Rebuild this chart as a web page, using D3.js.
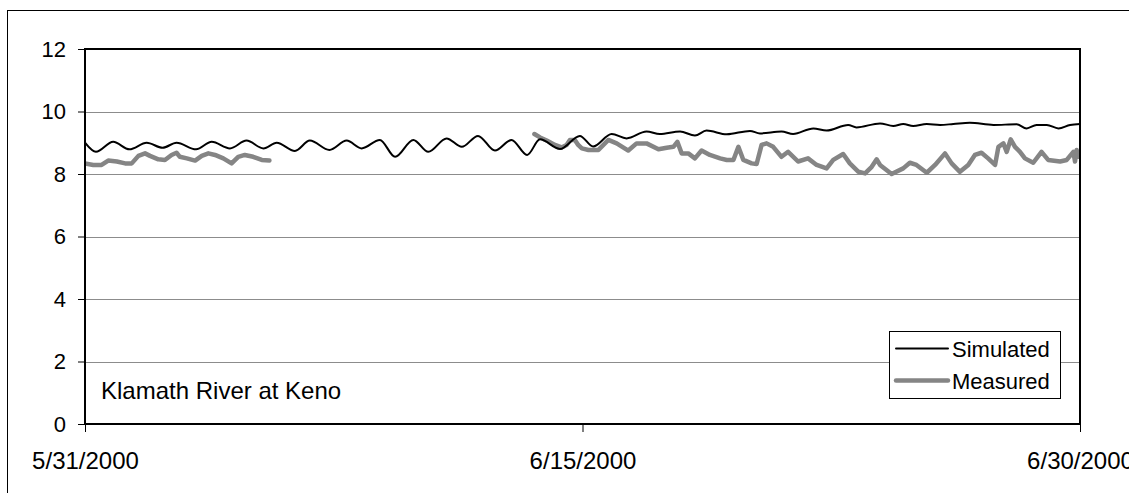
<!DOCTYPE html>
<html>
<head>
<meta charset="utf-8">
<script src="https://cdn.jsdelivr.net/npm/d3@7/dist/d3.min.js"></script>
<style>
  html, body { margin: 0; padding: 0; background: #fff; }
  svg { display: block; font-family: Arial, "Liberation Sans", sans-serif; }
</style>
</head>
<body>
<svg id="chart" width="1129" height="493"></svg>
<script>
// Water-quality time series, Klamath River at Keno, 5/31/2000 - 6/30/2000.
// Time is given in days since 5/31/2000 00:00.

const xTickDays = [0, 15, 30];
const xTickLabels = ["5/31/2000", "6/15/2000", "6/30/2000"];
const yTicks = [0, 2, 4, 6, 8, 10, 12];

const simulatedDays = [
  0.00, 0.33, 0.85, 1.34, 1.86, 2.34, 2.76, 3.35, 3.82, 4.37, 4.87, 5.38, 5.78,
  6.33, 6.78, 7.37, 7.89, 8.34, 8.89, 9.35, 9.90, 10.35, 10.90, 11.36, 11.85,
  12.36, 12.86, 13.33, 13.72, 14.32, 14.92, 15.32, 15.88, 16.33, 16.93, 17.33,
  17.94, 18.39, 18.74, 19.35, 20.05, 20.35, 21.00, 21.35, 21.96, 22.36, 23.01,
  23.26, 23.97, 24.37, 24.67, 24.97, 25.38, 25.78, 26.18, 26.68, 27.39, 28.09,
  28.39, 28.69, 29.00, 29.35, 29.70, 30.00
];
const simulatedValues = [
  9.00, 8.71, 9.03, 8.79, 9.00, 8.84, 9.00, 8.79, 9.03, 8.82, 9.07, 8.82, 9.00,
  8.74, 9.07, 8.77, 9.07, 8.82, 9.09, 8.55, 9.09, 8.71, 9.14, 8.87, 9.22,
  8.75, 9.09, 8.61, 9.11, 8.80, 9.22, 8.88, 9.28, 9.14, 9.36, 9.28,
  9.36, 9.23, 9.39, 9.27, 9.38, 9.30, 9.36, 9.28, 9.46, 9.39, 9.57,
  9.49, 9.62, 9.54, 9.60, 9.54, 9.60, 9.57, 9.60, 9.64, 9.57, 9.59,
  9.46, 9.57, 9.57, 9.46, 9.57, 9.60
];

// Measured record has a gap between 6/5 and 6/13.
const measuredDays1 = [
  0.00, 0.25, 0.50, 0.70, 0.96, 1.21, 1.41, 1.61, 1.81, 1.96, 2.21, 2.41, 2.61,
  2.76, 2.86, 3.07, 3.32, 3.52, 3.72, 3.92, 4.17, 4.42, 4.62, 4.82, 5.07, 5.33, 5.56
];
const measuredValues1 = [
  8.34, 8.29, 8.29, 8.43, 8.40, 8.34, 8.34, 8.58, 8.66, 8.58, 8.47, 8.45, 8.61,
  8.68, 8.55, 8.50, 8.43, 8.58, 8.66, 8.61, 8.50, 8.34, 8.55, 8.61, 8.55, 8.45, 8.43
];
const measuredDays2 = [
  13.55, 13.72, 13.92, 14.17, 14.37, 14.52, 14.62, 14.77, 14.87, 14.98, 15.18,
  15.48, 15.63, 15.78, 16.03, 16.38, 16.63, 16.93, 17.29, 17.54, 17.74, 17.86,
  17.99, 18.19, 18.39, 18.59, 18.84, 19.15, 19.35, 19.55, 19.70, 19.85, 20.10,
  20.25, 20.40, 20.55, 20.75, 21.00, 21.20, 21.50, 21.80, 22.06, 22.36, 22.56,
  22.86, 23.06, 23.32, 23.52, 23.72, 23.87, 23.97, 24.32, 24.67, 24.87, 25.07,
  25.38, 25.63, 25.93, 26.13, 26.38, 26.63, 26.83, 27.03, 27.23, 27.44, 27.54,
  27.69, 27.79, 27.91, 28.04, 28.19, 28.34, 28.59, 28.84, 29.04, 29.40, 29.60,
  29.80, 29.85, 29.90, 29.95
];
const measuredValues2 = [
  9.28, 9.17, 9.07, 8.93, 8.85, 8.93, 9.09, 9.09, 8.93, 8.82, 8.77,
  8.77, 8.93, 9.09, 8.98, 8.75, 8.98, 8.98, 8.79, 8.84, 8.87, 9.03,
  8.66, 8.66, 8.50, 8.75, 8.61, 8.50, 8.45, 8.45, 8.87, 8.45, 8.34,
  8.32, 8.93, 8.98, 8.87, 8.55, 8.71, 8.40, 8.50, 8.29, 8.18, 8.45,
  8.64, 8.34, 8.07, 8.02, 8.23, 8.47, 8.29, 8.00, 8.18, 8.36, 8.29,
  8.04, 8.29, 8.66, 8.34, 8.07, 8.29, 8.61, 8.68, 8.50, 8.29, 8.87,
  8.98, 8.71, 9.11, 8.87, 8.71, 8.50, 8.36, 8.71, 8.45, 8.40, 8.45,
  8.71, 8.40, 8.77, 8.55
];

const seriesNames = ["Simulated", "Measured"];
const annotation = "Klamath River at Keno";

const svg = d3.select("#chart");
const plot = { left: 85, top: 49, right: 1080, bottom: 424 };
const font = 'Arial, "Liberation Sans", sans-serif';

const x = d3.scaleLinear().domain([0, 30]).range([plot.left, plot.right]);
const y = d3.scaleLinear().domain([0, 12]).range([plot.bottom, plot.top]);

// Outer chart frame (continues past the right and bottom edges)
svg.append("rect")
  .attr("x", 7.5).attr("y", 10.5)
  .attr("width", 1200).attr("height", 600)
  .attr("fill", "none").attr("stroke", "#000").attr("stroke-width", 1);

// Horizontal gridlines
svg.append("g")
  .selectAll("line")
  .data(yTicks.filter(v => v > 0 && v < 12))
  .join("line")
  .attr("x1", plot.left).attr("x2", plot.right)
  .attr("y1", d => Math.round(y(d)) + 0.5).attr("y2", d => Math.round(y(d)) + 0.5)
  .attr("stroke", "#8c8c8c").attr("stroke-width", 1);

// Y axis ticks and labels
const yAxis = svg.append("g")
  .attr("transform", `translate(${plot.left},0)`)
  .call(d3.axisLeft(y).tickValues(yTicks).tickSize(7).tickPadding(12).tickFormat(d3.format("d")));
yAxis.select(".domain").remove();
yAxis.selectAll("text").attr("font-size", 22).attr("font-family", font).attr("fill", "#000");
yAxis.selectAll("line").attr("stroke", "#000");

// X axis ticks and labels
const xAxis = svg.append("g")
  .attr("transform", `translate(0,${plot.bottom})`)
  .call(d3.axisBottom(x).tickValues(xTickDays).tickSize(8).tickPadding(20)
    .tickFormat((d, i) => xTickLabels[i]));
xAxis.select(".domain").remove();
xAxis.selectAll("text").attr("font-size", 24).attr("font-family", font).attr("fill", "#000");
xAxis.selectAll("line").attr("stroke", "#000");

// Series lines
const simLine = d3.line().x(d => x(d[0])).y(d => y(d[1])).curve(d3.curveMonotoneX);
const measLine = d3.line().x(d => x(d[0])).y(d => y(d[1]));

const simData = simulatedDays.map((d, i) => [d, simulatedValues[i]]);
const meas1 = measuredDays1.map((d, i) => [d, measuredValues1[i]]);
const meas2 = measuredDays2.map((d, i) => [d, measuredValues2[i]]);

const clip = svg.append("clipPath").attr("id", "plotclip")
  .append("rect").attr("x", plot.left).attr("y", plot.top)
  .attr("width", plot.right - plot.left).attr("height", plot.bottom - plot.top);

const lines = svg.append("g").attr("clip-path", "url(#plotclip)");
[meas1, meas2].forEach(seg => {
  lines.append("path").datum(seg)
    .attr("d", measLine)
    .attr("fill", "none").attr("stroke", "#858585").attr("stroke-width", 4.5)
    .attr("stroke-linejoin", "round").attr("stroke-linecap", "round");
});
lines.append("path").datum(simData)
  .attr("d", simLine)
  .attr("fill", "none").attr("stroke", "#000").attr("stroke-width", 2)
  .attr("stroke-linejoin", "round");

// Plot area border
svg.append("rect")
  .attr("x", plot.left).attr("y", plot.top)
  .attr("width", plot.right - plot.left).attr("height", plot.bottom - plot.top)
  .attr("fill", "none").attr("stroke", "#000").attr("stroke-width", 2);

// Station annotation
svg.append("text")
  .attr("x", 101).attr("y", 399)
  .attr("font-size", 24).attr("font-family", font).attr("fill", "#000")
  .text(annotation);

// Legend
const legend = svg.append("g");
legend.append("rect")
  .attr("x", 889.5).attr("y", 331.5).attr("width", 171).attr("height", 67)
  .attr("fill", "#fff").attr("stroke", "#000").attr("stroke-width", 1);
const legendItems = [
  { name: seriesNames[0], color: "#000", width: 2, yPos: 348.5, base: 357 },
  { name: seriesNames[1], color: "#858585", width: 4.5, yPos: 380.5, base: 389 }
];
legendItems.forEach(it => {
  legend.append("line")
    .attr("x1", 896).attr("x2", 948).attr("y1", it.yPos).attr("y2", it.yPos)
    .attr("stroke", it.color).attr("stroke-width", it.width).attr("stroke-linecap", "round");
  legend.append("text")
    .attr("x", 952).attr("y", it.base)
    .attr("font-size", 22).attr("font-family", font).attr("fill", "#000")
    .text(it.name);
});
</script>
</body>
</html>
